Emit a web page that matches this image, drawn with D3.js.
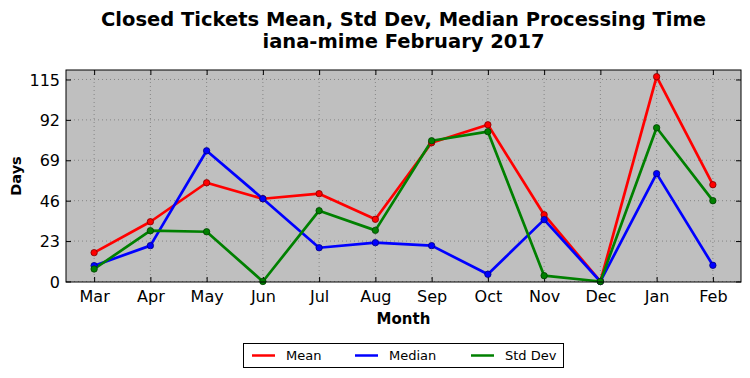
<!DOCTYPE html>
<html><head><meta charset="utf-8">
<script src="https://cdn.jsdelivr.net/npm/d3@7"></script>
<style>body{margin:0;background:#fff;} text{font-family:"DejaVu Sans",sans-serif;}</style>
</head><body>
<svg id="c" width="750" height="378"></svg>
<script>
const months = ["Mar","Apr","May","Jun","Jul","Aug","Sep","Oct","Nov","Dec","Jan","Feb"];
const meanVals   = [16.4, 34.0, 56.2, 47.1, 50.0, 35.4, 79.0, 89.2, 38.0, 0, 116.6, 55.1];
const medianVals = [9.0, 20.4, 74.4, 47.1, 19.2, 22.1, 20.4, 4.1, 35.2, 0, 61.4, 9.2];
const stdVals    = [7.1, 28.9, 28.3, 0, 40.3, 29.1, 80.1, 85.3, 3.3, 0, 87.5, 46.0];
const yTicks = [0, 23, 46, 69, 92, 115];
const seriesNames = ["Mean","Median","Std Dev"];
const seriesColors = ["#ff0000","#0000ff","#008000"];
const seriesStroke = ["#800000","#000080","#004000"];

const series = [meanVals, medianVals, stdVals];
const svg = d3.select("#c");
const L=66, R=741, T=70, B=282;
const x = d3.scaleLinear().domain([-0.5, 11.5]).range([L, R]);
const y = d3.scaleLinear().domain([-0.3, 120.4]).range([B, T]);

svg.append("rect").attr("x",L).attr("y",T).attr("width",R-L).attr("height",B-T).attr("fill","#bfbfbf");

// grid
const g = svg.append("g");
g.selectAll(".gx").data(months).enter().append("line")
  .attr("x1",(d,i)=>x(i)).attr("x2",(d,i)=>x(i)).attr("y1",T).attr("y2",B)
  .attr("stroke","#777").attr("stroke-width",0.8).attr("stroke-dasharray","1,3");
g.selectAll(".gy").data(yTicks).enter().append("line")
  .attr("x1",L).attr("x2",R).attr("y1",d=>y(d)).attr("y2",d=>y(d))
  .attr("stroke","#777").attr("stroke-width",0.8).attr("stroke-dasharray","1,3");

// axes
const xAxis = d3.axisBottom(x).tickValues(d3.range(months.length)).tickFormat(i=>months[i]).tickSizeInner(-5).tickSizeOuter(0).tickPadding(9);
const yAxis = d3.axisLeft(y).tickValues(yTicks).tickSizeInner(-5).tickSizeOuter(0).tickPadding(6);
const xa = svg.append("g").attr("transform",`translate(0,${B})`).call(xAxis);
const ya = svg.append("g").attr("transform",`translate(${L},0)`).call(yAxis);
const xt = svg.append("g").attr("transform",`translate(0,${T})`).call(d3.axisTop(x).tickValues(d3.range(months.length)).tickFormat("").tickSizeInner(-5).tickSizeOuter(0));
const yr = svg.append("g").attr("transform",`translate(${R},0)`).call(d3.axisRight(y).tickValues(yTicks).tickFormat("").tickSizeInner(-5).tickSizeOuter(0));
[xa,ya,xt,yr].forEach(a=>{a.select(".domain").remove(); a.selectAll("line").attr("stroke","#000");});
xa.selectAll("text").attr("font-size",16).attr("fill","#000");
ya.selectAll("text").attr("font-size",16).attr("fill","#000").attr("dy","0.35em");

// lines
const line = d3.line().x((d,i)=>x(i)).y(d=>y(d));
series.forEach((s,k)=>{
  svg.append("path").datum(s).attr("d",line).attr("fill","none")
    .attr("stroke",seriesColors[k]).attr("stroke-width",2.7).attr("stroke-linejoin","round");
});
series.forEach((s,k)=>{
  svg.append("g").selectAll("circle").data(s).enter().append("circle")
    .attr("cx",(d,i)=>x(i)).attr("cy",d=>y(d)).attr("r",3.2)
    .attr("fill",seriesColors[k]).attr("stroke",seriesStroke[k]).attr("stroke-width",0.8);
});

// frame
svg.append("rect").attr("x",L).attr("y",T).attr("width",R-L).attr("height",B-T).attr("fill","none").attr("stroke","#000").attr("stroke-width",1);

// titles
svg.append("text").attr("x",(L+R)/2).attr("y",26).attr("text-anchor","middle").attr("font-size",19.5).attr("font-weight","bold").text("Closed Tickets Mean, Std Dev, Median Processing Time");
svg.append("text").attr("x",(L+R)/2).attr("y",48).attr("text-anchor","middle").attr("font-size",19.5).attr("font-weight","bold").text("iana-mime February 2017");
svg.append("text").attr("x",(L+R)/2).attr("y",324).attr("text-anchor","middle").attr("font-size",15).attr("font-weight","bold").text("Month");
svg.append("text").attr("transform","translate(21,176) rotate(-90)").attr("text-anchor","middle").attr("font-size",14.5).attr("font-weight","bold").text("Days");

// legend
const lg = svg.append("g");
lg.append("rect").attr("x",243.5).attr("y",343.5).attr("width",320).attr("height",24).attr("fill","#fff").attr("stroke","#000");
const lx = [252, 355, 471];
seriesNames.forEach((n,k)=>{
  lg.append("line").attr("x1",lx[k]).attr("x2",lx[k]+23).attr("y1",355.5).attr("y2",355.5).attr("stroke",seriesColors[k]).attr("stroke-width",2.5);
  lg.append("text").attr("x",lx[k]+34).attr("y",360).attr("font-size",13).text(n);
});
</script>
</body></html>
